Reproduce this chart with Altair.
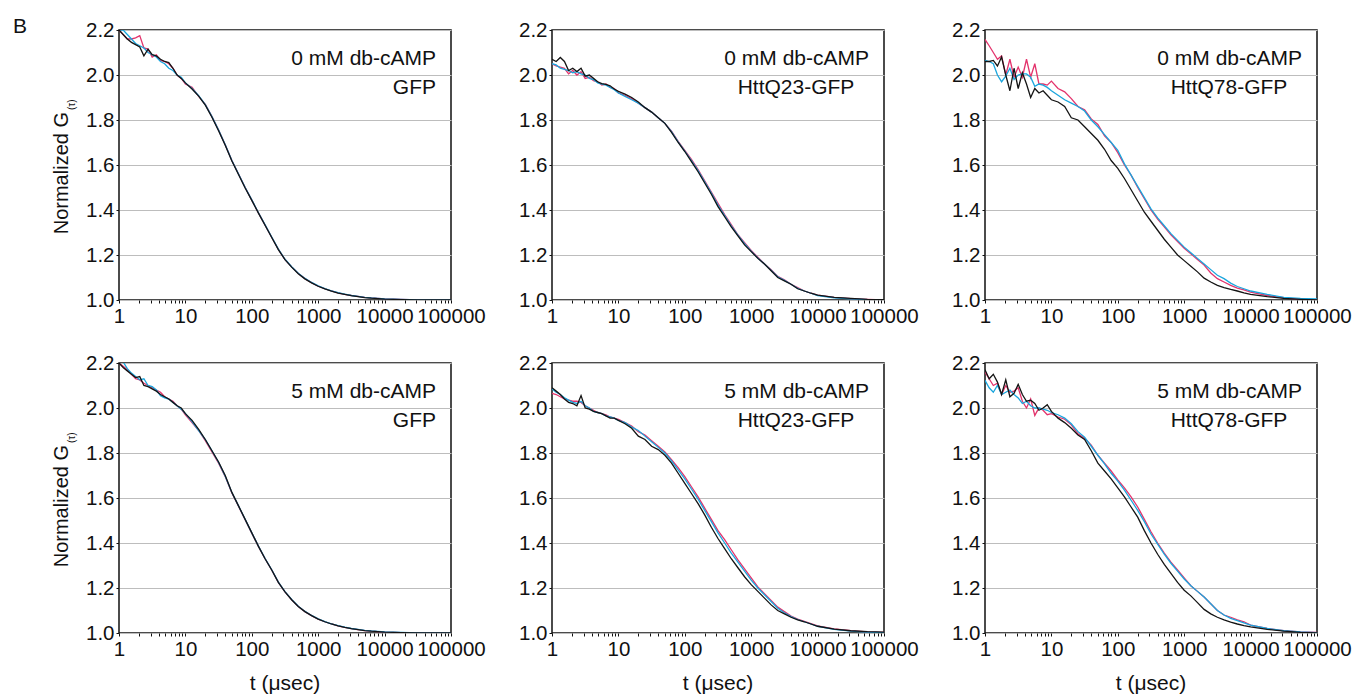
import altair as alt
import pandas as pd

FONT = "Liberation Sans"
INK = "#111111"

# lag times (usec) shared by every curve
T = [1, 1.155, 1.334, 1.540, 1.778, 2.054, 2.371, 2.738, 3.162, 3.652, 4.217, 4.870, 5.623, 6.494, 7.499, 8.660,
     10, 12.59, 15.85, 19.95, 25.12, 31.62, 39.81, 50.12, 63.10, 79.43,
     100, 125.9, 158.5, 199.5, 251.2, 316.2, 398.1, 501.2, 631.0, 794.3,
     1000, 1259, 1585, 1995, 2512, 3162, 3981, 5012, 6310, 7943,
     10000, 17783, 31623, 56234, 100000]

SERIES = ["magenta", "cyan", "black"]
COLORS = ["#e3336c", "#1aa5dd", "#141414"]

LINE1 = ["0 mM db-cAMP", "0 mM db-cAMP", "0 mM db-cAMP", "5 mM db-cAMP", "5 mM db-cAMP", "5 mM db-cAMP"]
LINE2 = ["GFP", "HttQ23-GFP", "HttQ78-GFP", "GFP", "HttQ23-GFP", "HttQ78-GFP"]

# ---- panel 1: 0 mM, GFP
P1_MAGENTA = [2.200, 2.180, 2.160, 2.160, 2.165, 2.175, 2.120, 2.115, 2.080, 2.090, 2.065, 2.060, 2.050, 2.030, 2.000, 1.985,
              1.960, 1.945, 1.905, 1.870, 1.815, 1.755, 1.690, 1.620, 1.560, 1.500,
              1.444, 1.387, 1.333, 1.279, 1.225, 1.180, 1.147, 1.118, 1.095, 1.077,
              1.062, 1.050, 1.040, 1.032, 1.025, 1.020, 1.016, 1.012, 1.009, 1.007,
              1.005, 1.003, 1.001, 1.000, 1.000]
P1_CYAN = [2.200, 2.200, 2.180, 2.160, 2.140, 2.130, 2.120, 2.100, 2.090, 2.080, 2.060, 2.050, 2.030, 2.020, 2.000, 1.990,
           1.965, 1.940, 1.908, 1.868, 1.815, 1.755, 1.690, 1.620, 1.560, 1.500,
           1.445, 1.388, 1.334, 1.280, 1.226, 1.181, 1.148, 1.119, 1.096, 1.078,
           1.063, 1.051, 1.041, 1.033, 1.026, 1.020, 1.016, 1.012, 1.009, 1.007,
           1.005, 1.003, 1.001, 1.001, 1.001]
P1_BLACK = [2.200, 2.180, 2.160, 2.145, 2.135, 2.125, 2.085, 2.115, 2.090, 2.085, 2.070, 2.060, 2.055, 2.030, 2.000, 1.985,
            1.965, 1.938, 1.906, 1.866, 1.812, 1.752, 1.688, 1.618, 1.558, 1.498,
            1.443, 1.386, 1.332, 1.278, 1.224, 1.179, 1.146, 1.117, 1.094, 1.076,
            1.061, 1.049, 1.039, 1.031, 1.025, 1.019, 1.015, 1.011, 1.008, 1.006,
            1.004, 1.002, 1.001, 1.000, 1.000]

# ---- panel 2: 0 mM, HttQ23-GFP
P2_MAGENTA = [2.050, 2.040, 2.035, 2.030, 2.005, 2.020, 2.000, 2.015, 1.985, 1.990, 1.975, 1.970, 1.955, 1.960, 1.945, 1.940,
              1.920, 1.910, 1.895, 1.875, 1.855, 1.835, 1.810, 1.785, 1.750, 1.705,
              1.665, 1.625, 1.580, 1.530, 1.480, 1.430, 1.380, 1.335, 1.290, 1.255,
              1.220, 1.190, 1.160, 1.135, 1.105, 1.090, 1.070, 1.055, 1.040, 1.030,
              1.022, 1.012, 1.006, 1.003, 1.000]
P2_CYAN = [2.050, 2.045, 2.030, 2.025, 2.020, 2.010, 2.015, 2.005, 2.000, 1.985, 1.980, 1.965, 1.960, 1.955, 1.945, 1.935,
           1.920, 1.905, 1.890, 1.875, 1.855, 1.835, 1.810, 1.785, 1.748, 1.703,
           1.662, 1.620, 1.575, 1.525, 1.475, 1.422, 1.375, 1.330, 1.288, 1.250,
           1.217, 1.187, 1.160, 1.132, 1.103, 1.087, 1.070, 1.052, 1.040, 1.030,
           1.020, 1.010, 1.005, 1.002, 1.000]
P2_BLACK = [2.070, 2.060, 2.078, 2.060, 2.020, 2.030, 2.015, 2.030, 1.995, 2.000, 1.985, 1.970, 1.962, 1.958, 1.952, 1.938,
            1.927, 1.915, 1.900, 1.880, 1.855, 1.835, 1.810, 1.785, 1.745, 1.700,
            1.660, 1.615, 1.570, 1.520, 1.470, 1.415, 1.370, 1.325, 1.285, 1.245,
            1.215, 1.185, 1.160, 1.130, 1.100, 1.085, 1.070, 1.050, 1.040, 1.030,
            1.022, 1.012, 1.007, 1.003, 1.002]

# ---- panel 3: 0 mM, HttQ78-GFP
P3_MAGENTA = [2.158, 2.130, 2.100, 2.070, 2.085, 2.000, 2.070, 1.990, 2.035, 1.990, 2.070, 1.990, 2.050, 1.960, 1.960, 1.955,
              1.973, 1.940, 1.925, 1.895, 1.860, 1.845, 1.805, 1.780, 1.730, 1.700,
              1.655, 1.600, 1.555, 1.500, 1.450, 1.400, 1.360, 1.325, 1.290, 1.260,
              1.230, 1.205, 1.180, 1.155, 1.120, 1.095, 1.080, 1.065, 1.053, 1.045,
              1.035, 1.020, 1.010, 1.003, 1.000]
P3_CYAN = [2.065, 2.060, 2.050, 2.000, 1.970, 1.995, 2.030, 1.980, 2.000, 2.005, 2.005, 1.990, 1.950, 1.960, 1.955, 1.945,
           1.930, 1.910, 1.890, 1.875, 1.860, 1.840, 1.800, 1.770, 1.735, 1.700,
           1.665, 1.605, 1.555, 1.505, 1.455, 1.405, 1.365, 1.330, 1.295, 1.265,
           1.235, 1.210, 1.185, 1.160, 1.135, 1.110, 1.095, 1.075, 1.060, 1.050,
           1.040, 1.025, 1.012, 1.007, 1.005]
P3_BLACK = [2.060, 2.060, 2.065, 2.040, 2.080, 2.000, 1.930, 2.030, 1.940, 2.010, 1.960, 1.900, 1.940, 1.920, 1.930, 1.910,
            1.890, 1.880, 1.860, 1.810, 1.800, 1.770, 1.740, 1.710, 1.670, 1.620,
            1.585, 1.540, 1.490, 1.440, 1.390, 1.350, 1.310, 1.270, 1.235, 1.200,
            1.175, 1.150, 1.125, 1.097, 1.080, 1.065, 1.055, 1.047, 1.040, 1.032,
            1.025, 1.015, 1.007, 1.003, 1.000]

# ---- panel 4: 5 mM, GFP
P4_MAGENTA = [2.200, 2.185, 2.170, 2.150, 2.130, 2.125, 2.110, 2.100, 2.090, 2.080, 2.070, 2.050, 2.040, 2.030, 2.010, 1.995,
              1.970, 1.935, 1.900, 1.855, 1.805, 1.755, 1.695, 1.622, 1.563, 1.503,
              1.444, 1.385, 1.330, 1.280, 1.225, 1.183, 1.148, 1.118, 1.095, 1.077,
              1.062, 1.050, 1.040, 1.032, 1.025, 1.019, 1.015, 1.011, 1.008, 1.006,
              1.004, 1.002, 1.001, 1.000, 1.000]
P4_CYAN = [2.200, 2.205, 2.175, 2.155, 2.140, 2.125, 2.130, 2.100, 2.095, 2.080, 2.055, 2.045, 2.040, 2.025, 2.010, 1.995,
           1.975, 1.940, 1.900, 1.860, 1.810, 1.758, 1.697, 1.624, 1.565, 1.505,
           1.445, 1.386, 1.331, 1.281, 1.226, 1.184, 1.149, 1.119, 1.096, 1.078,
           1.063, 1.051, 1.041, 1.033, 1.026, 1.020, 1.016, 1.012, 1.009, 1.007,
           1.005, 1.003, 1.001, 1.001, 1.001]
P4_BLACK = [2.200, 2.180, 2.165, 2.150, 2.135, 2.140, 2.100, 2.095, 2.085, 2.075, 2.060, 2.050, 2.040, 2.025, 2.010, 2.000,
            1.975, 1.945, 1.905, 1.860, 1.810, 1.760, 1.700, 1.625, 1.565, 1.505,
            1.445, 1.385, 1.330, 1.280, 1.225, 1.183, 1.148, 1.118, 1.095, 1.077,
            1.062, 1.050, 1.040, 1.032, 1.025, 1.019, 1.015, 1.011, 1.008, 1.006,
            1.004, 1.002, 1.001, 1.000, 1.000]

# ---- panel 5: 5 mM, HttQ23-GFP
P5_MAGENTA = [2.065, 2.060, 2.050, 2.040, 2.035, 2.030, 2.030, 2.025, 2.010, 2.000, 1.990, 1.980, 1.975, 1.970, 1.960, 1.955,
              1.950, 1.935, 1.920, 1.895, 1.880, 1.855, 1.830, 1.805, 1.770, 1.735,
              1.695, 1.650, 1.605, 1.555, 1.505, 1.455, 1.415, 1.370, 1.325, 1.285,
              1.245, 1.205, 1.175, 1.145, 1.115, 1.095, 1.075, 1.062, 1.052, 1.042,
              1.032, 1.018, 1.010, 1.005, 1.003]
P5_CYAN = [2.085, 2.070, 2.060, 2.045, 2.035, 2.025, 2.020, 2.030, 2.010, 2.000, 1.985, 1.980, 1.975, 1.965, 1.960, 1.955,
           1.945, 1.935, 1.915, 1.900, 1.875, 1.850, 1.825, 1.800, 1.765, 1.725,
           1.685, 1.640, 1.595, 1.545, 1.495, 1.445, 1.400, 1.355, 1.315, 1.275,
           1.235, 1.200, 1.170, 1.140, 1.110, 1.090, 1.073, 1.060, 1.050, 1.040,
           1.030, 1.016, 1.008, 1.004, 1.002]
P5_BLACK = [2.090, 2.075, 2.060, 2.040, 2.025, 2.020, 2.010, 2.055, 2.000, 1.995, 1.985, 1.980, 1.975, 1.965, 1.955, 1.955,
            1.945, 1.930, 1.910, 1.875, 1.860, 1.830, 1.815, 1.790, 1.755, 1.710,
            1.665, 1.620, 1.575, 1.525, 1.470, 1.420, 1.375, 1.330, 1.290, 1.250,
            1.215, 1.185, 1.155, 1.125, 1.100, 1.085, 1.070, 1.058, 1.050, 1.040,
            1.030, 1.017, 1.010, 1.006, 1.004]

# ---- panel 6: 5 mM, HttQ78-GFP
P6_MAGENTA = [2.160, 2.130, 2.100, 2.110, 2.060, 2.100, 2.070, 2.075, 2.090, 2.030, 2.000, 2.040, 1.967, 2.000, 1.990, 1.970,
              1.975, 1.960, 1.950, 1.925, 1.885, 1.865, 1.835, 1.790, 1.755, 1.720,
              1.680, 1.645, 1.605, 1.560, 1.505, 1.450, 1.400, 1.355, 1.315, 1.280,
              1.245, 1.210, 1.185, 1.160, 1.130, 1.100, 1.080, 1.070, 1.058, 1.050,
              1.035, 1.020, 1.010, 1.005, 1.003]
P6_CYAN = [2.123, 2.090, 2.070, 2.100, 2.060, 2.070, 2.080, 2.060, 2.045, 2.020, 2.030, 2.010, 2.000, 2.000, 1.995, 1.990,
           1.980, 1.970, 1.955, 1.930, 1.895, 1.870, 1.830, 1.790, 1.752, 1.710,
           1.675, 1.635, 1.590, 1.545, 1.495, 1.440, 1.395, 1.350, 1.310, 1.275,
           1.240, 1.210, 1.185, 1.160, 1.130, 1.100, 1.080, 1.065, 1.055, 1.045,
           1.035, 1.020, 1.010, 1.005, 1.002]
P6_BLACK = [2.170, 2.130, 2.150, 2.115, 2.060, 2.125, 2.050, 2.065, 2.105, 2.060, 2.030, 2.035, 2.020, 1.990, 2.000, 2.015,
            1.985, 1.955, 1.935, 1.910, 1.880, 1.860, 1.810, 1.755, 1.720, 1.685,
            1.645, 1.605, 1.560, 1.515, 1.455, 1.400, 1.350, 1.305, 1.265, 1.225,
            1.190, 1.165, 1.135, 1.105, 1.085, 1.070, 1.058, 1.048, 1.040, 1.033,
            1.027, 1.016, 1.008, 1.003, 1.000]

CURVES = [
    (P1_MAGENTA, P1_CYAN, P1_BLACK),
    (P2_MAGENTA, P2_CYAN, P2_BLACK),
    (P3_MAGENTA, P3_CYAN, P3_BLACK),
    (P4_MAGENTA, P4_CYAN, P4_BLACK),
    (P5_MAGENTA, P5_CYAN, P5_BLACK),
    (P6_MAGENTA, P6_CYAN, P6_BLACK),
]

rows = []
for p, triple in enumerate(CURVES):
    for name, vals in zip(SERIES, triple):
        for t, g in zip(T, vals):
            rows.append({"panel": p, "series": name, "t": t, "g": g})
df = pd.DataFrame(rows)

X_TICKS = [m * 10 ** e for e in range(5) for m in range(1, 10)] + [100000]
Y_TICKS = [1.0, 1.2, 1.4, 1.6, 1.8, 2.0, 2.2]

W, H = 332, 270

x_axis = alt.Axis(values=X_TICKS, format="d",
                  labelExpr="indexof([1,10,100,1000,10000,100000], datum.value) >= 0 ? datum.label : ''",
                  labelFont=FONT, labelFontSize=20.5, labelColor=INK, labelPadding=3,
                  labelOverlap=False, labelFlush=False,
                  tickSize=3, tickColor=INK, tickWidth=1, domain=False, grid=False, title=None)
y_axis = alt.Axis(values=Y_TICKS, format=".1f",
                  labelFont=FONT, labelFontSize=20.5, labelColor=INK, labelPadding=2,
                  labelOverlap=False, labelFlush=False,
                  tickSize=3, tickColor=INK, tickWidth=1, domain=False,
                  grid=True, gridColor="#bdbdbd", gridWidth=1.2, title=None)

one = pd.DataFrame({"k": [0]})


def label(text, x, y, align="left", size=21, angle=0, baseline="middle"):
    return alt.Chart(one).mark_text(
        text=text, align=align, baseline=baseline, fontSize=size, font=FONT,
        color=INK, angle=angle
    ).encode(x=alt.value(x), y=alt.value(y))


def panel(i):
    d = df[df.panel == i]
    lines = alt.Chart(d).mark_line(strokeWidth=1.3, clip=True).encode(
        x=alt.X("t:Q", scale=alt.Scale(type="log", domain=[1, 100000], nice=False), axis=x_axis),
        y=alt.Y("g:Q", scale=alt.Scale(domain=[1.0, 2.2], nice=False, zero=False), axis=y_axis),
        color=alt.Color("series:N", scale=alt.Scale(domain=SERIES, range=COLORS), legend=None),
    )
    layers = [lines, label(LINE1[i], W - 15, 29, align="right")]
    if LINE2[i] == "GFP":
        layers.append(label(LINE2[i], W - 15, 58, align="right"))
    else:
        layers.append(label(LINE2[i], W - 15 - 73, 58, align="center"))
    if i % 3 == 0:
        layers.append(label("Normalized G", -51, 82, align="right", size=20, angle=270, baseline="alphabetic"))
        layers.append(label("(\u03c4)", -44, 80, align="left", size=10, angle=270, baseline="alphabetic"))
    if i >= 3:
        layers.append(label("t (\u03bcsec)", W / 2, H + 57, align="center", size=21, baseline="alphabetic"))
    if i == 0:
        layers.append(label("B", -106, 3, align="left", size=21, baseline="alphabetic"))
    return alt.layer(*layers).properties(width=W, height=H)


chart = alt.concat(
    *[panel(i) for i in range(6)],
    columns=3,
    spacing={"row": 63, "column": 101},
    bounds="flush",
).properties(
    padding={"left": 4, "top": 7, "right": 5, "bottom": 5},
    background="white",
).configure_view(
    stroke=INK, strokeWidth=1.5
)

chart.save("out.html", embed_options={"renderer": "svg", "actions": False})
